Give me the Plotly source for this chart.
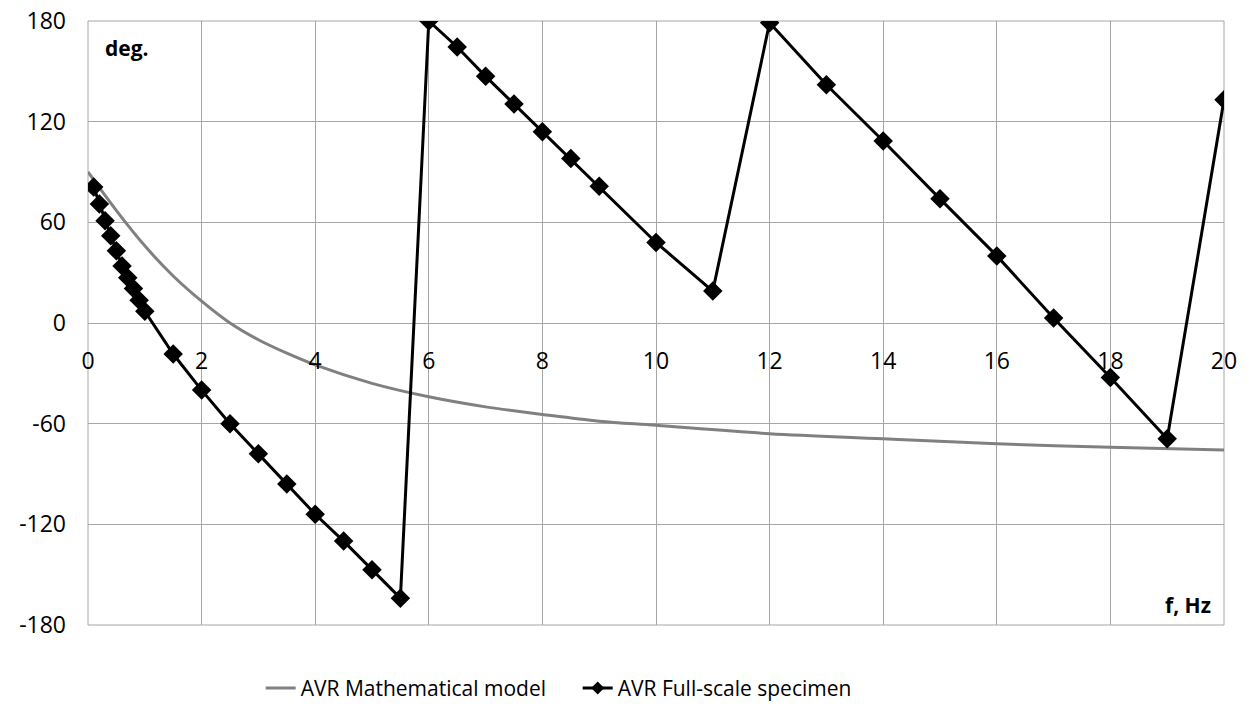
import plotly.graph_objects as go

# AVR Mathematical model
model_f = [0, 0.5, 1, 1.5, 2, 2.5, 3, 3.5, 4, 5, 6, 7, 8, 9, 10, 12, 14, 16, 18, 20]
model_deg = [90, 67, 46, 28, 13, 0, -10, -18, -25, -36, -44, -50, -54.5, -58.5, -61, -66, -69, -72, -74, -75.7]

# AVR Full-scale specimen
spec_f = [0.1, 0.2, 0.3, 0.4, 0.5, 0.6, 0.7, 0.8, 0.9, 1.0, 1.5, 2, 2.5, 3, 3.5, 4, 4.5, 5, 5.5,
          6, 6.5, 7, 7.5, 8, 8.5, 9, 10, 11, 12, 13, 14, 15, 16, 17, 18, 19, 20]
spec_deg = [81, 71, 61, 52, 43, 34, 27, 20.5, 13.5, 7, -18.5, -40, -60, -78, -96, -114, -130, -147, -164,
            180, 164.5, 147, 130.5, 114, 98, 81.5, 48, 19, 179, 142, 108.5, 74, 40, 3, -32.5, -69, 133]

x_ticks = [0, 2, 4, 6, 8, 10, 12, 14, 16, 18, 20]
y_ticks = [-180, -120, -60, 0, 60, 120, 180]
y_labels = ["-180", "-120", "-60", "0", "60", "120", "180"]

font_name = "Open Sans"
grid_color = "#a6a6a6"

fig = go.Figure()

fig.add_trace(go.Scatter(x=model_f, y=model_deg, mode="lines", line_shape="spline",
                         line=dict(color="#808080", width=3),
                         name="AVR Mathematical model"))

fig.add_trace(go.Scatter(x=spec_f, y=spec_deg, mode="lines+markers",
                         line=dict(color="black", width=3),
                         marker=dict(symbol="diamond", size=15, color="black"),
                         name="AVR Full-scale specimen", showlegend=False))

# legend-only entry with a smaller diamond, like the original legend
fig.add_trace(go.Scatter(x=[None], y=[None], mode="lines+markers",
                         line=dict(color="black", width=3),
                         marker=dict(symbol="diamond", size=10, color="black"),
                         name="AVR Full-scale specimen"))

fig.update_layout(
    width=1259, height=711,
    margin=dict(l=88, r=35, t=21, b=86, autoexpand=False),
    plot_bgcolor="white", paper_bgcolor="white",
    font=dict(family=font_name, size=21, color="black"),
    showlegend=True,
    legend=dict(orientation="h", x=0.152, y=-0.105, xanchor="left", yanchor="middle",
                font=dict(size=21), entrywidth=272, itemwidth=30),
)

# x axis crosses at y = 0, labels sit a bit below that line
fig.update_xaxes(range=[0, 20], tickvals=x_ticks, showgrid=True, gridcolor=grid_color, gridwidth=1,
                 zeroline=False, showline=False, anchor="free", position=0.5,
                 ticks="", ticklabelstandoff=22, tickfont=dict(size=23), automargin=False)
fig.update_yaxes(range=[-180, 180], tickvals=y_ticks, ticktext=y_labels, showgrid=True,
                 gridcolor=grid_color, gridwidth=1, zeroline=False, showline=False, ticks="",
                 ticklabelstandoff=21, tickfont=dict(size=23), automargin=False)

# plot area border
fig.add_shape(type="rect", xref="x domain", yref="y domain", x0=0, y0=0, x1=1, y1=1,
              line=dict(color=grid_color, width=1), layer="below")

# axis captions inside the plot
fig.add_annotation(x=0.013, y=0.955, xref="x domain", yref="y domain", text="<b>deg.</b>",
                   showarrow=False, xanchor="left", yanchor="middle", font=dict(size=21))
fig.add_annotation(x=0.99, y=0.033, xref="x domain", yref="y domain", text="<b>f, Hz</b>",
                   showarrow=False, xanchor="right", yanchor="middle", font=dict(size=21))

fig.write_html("out.html", config={"displayModeBar": False})

# drop the default page margin so the figure sits at the top-left corner
with open("out.html", "r", encoding="utf-8") as file:
    content = file.read()
content = content.replace("</head>", "<style>body { margin: 0; overflow: hidden; }</style></head>", 1)
with open("out.html", "w", encoding="utf-8") as file:
    file.write(content)
